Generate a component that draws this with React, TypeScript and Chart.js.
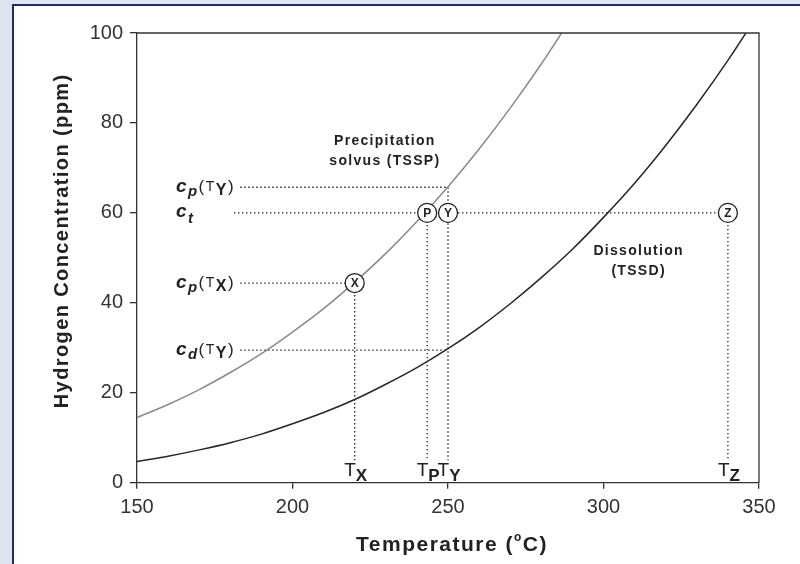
import React, { useEffect, useRef } from 'react';
import { Chart, registerables } from 'chart.js';

Chart.register(...registerables);

// ---- data ----
const precipTemps = [150, 160, 170, 180, 190, 200, 210, 220, 230, 240, 250, 260, 270, 280, 290];
const precipPpm = [14.5, 17.4, 20.7, 24.5, 28.7, 33.5, 38.7, 44.6, 51.0, 58.1, 65.8, 74.2, 83.3, 93.1, 103.7];

const dissolTemps = [150, 160, 170, 180, 190, 200, 210, 220, 230, 240, 250, 260, 270, 280, 290, 300, 310, 320, 330, 340, 350];
const dissolPpm = [4.7, 5.9, 7.3, 8.9, 10.8, 13.1, 15.6, 18.5, 21.9, 25.6, 29.8, 34.5, 39.8, 45.6, 51.9, 59.0, 66.6, 75.0, 84.1, 93.9, 104.5];

const xTicks = [150, 200, 250, 300, 350];
const yTicks = [0, 20, 40, 60, 80, 100];

// horizontal dotted leaders
const leaderNames = ['cpTY', 'ct', 'cpTX', 'cdTY'];
const leaderLevels = [65.7, 60, 44.4, 29.5];
const leaderStarts = [183.2, 181.2, 183.2, 183.2];
const leaderEnds = [250, 340, 220, 250];

// circled points and their vertical drops
const markerLetters = ['X', 'P', 'Y', 'Z'];
const markerTemps = [220, 243.3, 250, 340];
const markerLevels = [44.4, 60, 60, 60];
const dropTops = [44.4, 60, 65.7, 60];
const dropBottom = 5;

const curveLabelPrecip = ['Precipitation', 'solvus (TSSP)'];
const curveLabelDissol = ['Dissolution', '(TSSD)'];
const xTitle = ['Temperature (', 'o', 'C)'];
const yTitle = 'Hydrogen Concentration (ppm)';

const FF = '"Liberation Sans", Arial, Helvetica, sans-serif';
const INK = '#222';

type Part = { t: string; font: string; dy?: number; dx?: number };

function drawRich(ctx: CanvasRenderingContext2D, parts: Part[], x: number, y: number, align: 'left' | 'center', spacing: number) {
  (ctx as any).letterSpacing = spacing + 'px';
  ctx.textAlign = 'left';
  let w = 0;
  for (const p of parts) {
    ctx.font = p.font;
    w += ctx.measureText(p.t).width + (p.dx || 0);
  }
  let cx = align === 'center' ? x - w / 2 : x;
  for (const p of parts) {
    ctx.font = p.font;
    ctx.fillText(p.t, cx, y + (p.dy || 0));
    cx += ctx.measureText(p.t).width + (p.dx || 0);
  }
  (ctx as any).letterSpacing = '0px';
}

function leaderParts(name: string): Part[] {
  const cF = `italic bold 19px ${FF}`;
  const subF = `italic bold 15px ${FF}`;
  const parF = `17px ${FF}`;
  const tF = `14px ${FF}`;
  const yF = `bold 16px ${FF}`;
  const sub = name === 'ct' ? 't' : name === 'cdTY' ? 'd' : 'p';
  const parts: Part[] = [
    { t: 'c', font: cF },
    { t: sub, font: subF, dy: name === 'ct' ? 6 : 4 },
  ];
  if (name !== 'ct') {
    parts.push({ t: '(', font: parF, dx: 0 });
    parts.push({ t: 'T', font: tF, dy: -1 });
    parts.push({ t: name.endsWith('X') ? 'X' : 'Y', font: yF, dy: 3 });
    parts.push({ t: ')', font: parF });
  }
  return parts;
}

const annotate = {
  id: 'annotate',
  afterDraw(chart: any) {
    const { ctx, chartArea: a } = chart;
    const xs = chart.scales.x;
    const ys = chart.scales.y;
    ctx.save();
    // frame (top and right)
    ctx.strokeStyle = '#333';
    ctx.lineWidth = 1.3;
    ctx.beginPath();
    ctx.moveTo(a.left, a.top);
    ctx.lineTo(a.right, a.top);
    ctx.lineTo(a.right, a.bottom);
    ctx.stroke();

    ctx.fillStyle = INK;
    ctx.textBaseline = 'alphabetic';

    // leader labels
    const labelX = xs.getPixelForValue(162.5);
    leaderNames.forEach((n, i) => {
      const py = ys.getPixelForValue(leaderLevels[i]);
      drawRich(ctx, leaderParts(n), labelX, py + 4.5, 'left', 1.5);
    });

    // circle letters
    ctx.font = `bold 12px ${FF}`;
    ctx.textAlign = 'center';
    ctx.textBaseline = 'middle';
    markerLetters.forEach((l, i) => {
      ctx.fillText(l, xs.getPixelForValue(markerTemps[i]), ys.getPixelForValue(markerLevels[i]) + 0.5);
    });
    ctx.textBaseline = 'alphabetic';

    // T labels on the bottom
    const tBase = ys.getPixelForValue(0) - 6.4;
    markerLetters.forEach((l, i) => {
      const px = xs.getPixelForValue(markerTemps[i]) + 1;
      drawRich(ctx, [
        { t: 'T', font: `19px ${FF}` },
        { t: l, font: `bold 17px ${FF}`, dy: 5 },
      ], px, tBase, 'center', 0);
    });

    // curve labels
    const pF = `bold 14px ${FF}`;
    const px1 = xs.getPixelForValue(229.7);
    const py1 = ys.getPixelForValue(75);
    drawRich(ctx, [{ t: curveLabelPrecip[0], font: pF }], px1, py1, 'center', 1.3);
    drawRich(ctx, [{ t: curveLabelPrecip[1], font: pF }], px1, py1 + 19.7, 'center', 1.3);
    const dx1 = xs.getPixelForValue(311.3);
    const dy1 = ys.getPixelForValue(50.7);
    drawRich(ctx, [{ t: curveLabelDissol[0], font: pF }], dx1, dy1, 'center', 1.3);
    drawRich(ctx, [{ t: curveLabelDissol[1], font: pF }], dx1, dy1 + 20, 'center', 1.3);

    // axis titles
    ctx.textBaseline = 'middle';
    drawRich(ctx, [
      { t: xTitle[0], font: `bold 21px ${FF}` },
      { t: xTitle[1], font: `bold 12px ${FF}`, dy: -8 },
      { t: xTitle[2], font: `bold 21px ${FF}` },
    ], (a.left + a.right) / 2 + 4, 545.5, 'center', 1.5);

    ctx.save();
    ctx.translate(62, (a.top + a.bottom) / 2 - 17);
    ctx.rotate(-Math.PI / 2);
    drawRich(ctx, [{ t: yTitle, font: `bold 20px ${FF}` }], 0, 0, 'center', 1.4);
    ctx.restore();

    ctx.restore();
  },
};

export default function App() {
  const ref = useRef<HTMLCanvasElement>(null);

  useEffect(() => {
    const canvas = ref.current;
    if (!canvas) return;

    const dotted = {
      borderColor: '#1e1e1e',
      borderWidth: 1.3,
      borderDash: [1.4, 2.6],
      pointRadius: 0,
      showLine: true,
      order: 2,
    };

    const leaderSets = leaderNames.map((n, i) => ({
      ...dotted,
      label: n,
      data: [
        { x: leaderStarts[i], y: leaderLevels[i] },
        { x: leaderEnds[i], y: leaderLevels[i] },
      ],
    }));
    const dropSets = markerLetters.map((l, i) => ({
      ...dotted,
      label: 'T' + l,
      data: [
        { x: markerTemps[i], y: dropTops[i] },
        { x: markerTemps[i], y: dropBottom },
      ],
    }));

    const tickFont = { family: FF, size: 20 };

    const chart = new Chart(canvas, {
      type: 'scatter',
      data: {
        datasets: [
          {
            label: 'markers',
            data: markerTemps.map((t, i) => ({ x: t, y: markerLevels[i] })),
            pointRadius: 9.5,
            pointBackgroundColor: '#fff',
            pointBorderColor: '#222',
            pointBorderWidth: 1.3,
            showLine: false,
            order: -1,
          },
          {
            label: 'Precipitation solvus (TSSP)',
            data: precipTemps.map((t, i) => ({ x: t, y: precipPpm[i] })),
            borderColor: '#8a8a8a',
            borderWidth: 1.5,
            pointRadius: 0,
            showLine: true,
            cubicInterpolationMode: 'monotone',
            order: 1,
          },
          {
            label: 'Dissolution (TSSD)',
            data: dissolTemps.map((t, i) => ({ x: t, y: dissolPpm[i] })),
            borderColor: '#262626',
            borderWidth: 1.5,
            pointRadius: 0,
            showLine: true,
            cubicInterpolationMode: 'monotone',
            order: 1,
          },
          ...leaderSets,
          ...dropSets,
        ] as any,
      },
      options: {
        responsive: false,
        animation: false,
        devicePixelRatio: 1,
        events: [],
        layout: { padding: { top: 33, right: 41, bottom: 0, left: 0 } },
        plugins: { legend: { display: false }, tooltip: { enabled: false } },
        scales: {
          x: {
            type: 'linear',
            min: 150,
            max: 350,
            afterBuildTicks: (s: any) => { s.ticks = xTicks.map((v) => ({ value: v })); },
            ticks: { font: tickFont, color: '#333', padding: 7, maxRotation: 0, autoSkip: false },
            grid: { drawOnChartArea: false, drawTicks: true, tickLength: 6, color: '#333', lineWidth: 1.3 },
            border: { color: '#333', width: 1.3 },
            afterFit: (s: any) => { s.height = 81.3; },
          },
          y: {
            type: 'linear',
            min: 0,
            max: 100,
            afterBuildTicks: (s: any) => { s.ticks = yTicks.map((v) => ({ value: v })); },
            ticks: { font: tickFont, color: '#333', padding: 7 },
            grid: { drawOnChartArea: false, drawTicks: true, tickLength: 7, color: '#333', lineWidth: 1.3 },
            border: { color: '#333', width: 1.3 },
            afterFit: (s: any) => { s.width = 137; },
          },
        },
      } as any,
      plugins: [annotate],
    });

    return () => chart.destroy();
  }, []);

  return (
    <div style={{ position: 'fixed', left: 0, top: 0, width: 800, height: 564, background: '#dfe4ef', overflow: 'hidden' }}>
      <div
        style={{
          position: 'absolute',
          left: 12,
          top: 4,
          right: 0,
          bottom: 0,
          background: '#fff',
          borderLeft: '2px solid #1b2b6c',
          borderTop: '2px solid #1b2b6c',
        }}
      />
      <canvas ref={ref} width={800} height={564} style={{ position: 'absolute', left: 0, top: 0, width: 800, height: 564 }} />
    </div>
  );
}
